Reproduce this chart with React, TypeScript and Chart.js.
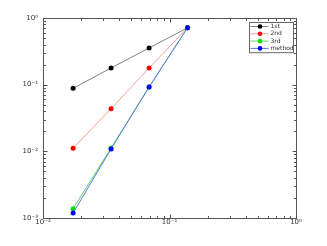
import React, { useEffect, useRef } from "react";
import { Chart, registerables } from "chart.js";

Chart.register(...registerables);

const stepSizes = [0.0173, 0.0345, 0.069, 0.139];
const err1st = [0.0881, 0.178, 0.355, 0.715];
const err2nd = [0.0111, 0.0436, 0.178, 0.715];
const err3rd = [0.00138, 0.0112, 0.0925, 0.715];
const errMethod = [0.00119, 0.01084, 0.0923, 0.715];
const seriesLabels = ["1st", "2nd", "3rd", "method"];
const xTickLabels: Record<string, string> = { "0.01": "10⁻²", "0.1": "10⁻¹", "1": "10⁰" };
const yTickLabels: Record<string, string> = { "0.001": "10⁻³", "0.01": "10⁻²", "0.1": "10⁻¹", "1": "10⁰" };

const lineColors = ["#808080", "#ff9a9a", "#5cd65c", "#5a78e6"];
const markerColors = ["#000000", "#ff0000", "#00e000", "#0000ff"];

function logTickValues(min: number, max: number) {
  const out: { v: number; major: boolean }[] = [];
  const d0 = Math.floor(Math.log10(min));
  const d1 = Math.ceil(Math.log10(max));
  for (let d = d0; d <= d1; d++) {
    for (let m = 1; m <= 9; m++) {
      const v = m * Math.pow(10, d);
      if (v >= min * 0.999 && v <= max * 1.001) out.push({ v, major: m === 1 });
    }
  }
  return out;
}

const boxTicksPlugin = {
  id: "boxTicks",
  afterDraw(chart: any) {
    const ctx = chart.ctx;
    const a = chart.chartArea;
    ctx.save();
    ctx.strokeStyle = "#555";
    ctx.lineWidth = 1;
    const L = Math.round(a.left) + 0.5, R = Math.round(a.right) + 0.5;
    const T = Math.round(a.top) + 0.5, B = Math.round(a.bottom) + 0.5;
    ctx.strokeRect(L, T, R - L, B - T);
    const xs = chart.scales.x;
    const ys = chart.scales.y;
    ctx.beginPath();
    logTickValues(xs.min, xs.max).forEach((t) => {
      const px = Math.round(xs.getPixelForValue(t.v)) + 0.5;
      const len = t.major ? 4 : 2.5;
      ctx.moveTo(px, B);
      ctx.lineTo(px, B - len);
      ctx.moveTo(px, T);
      ctx.lineTo(px, T + len);
    });
    logTickValues(ys.min, ys.max).forEach((t) => {
      const py = Math.round(ys.getPixelForValue(t.v)) + 0.5;
      const len = t.major ? 4 : 2.5;
      ctx.moveTo(L, py);
      ctx.lineTo(L + len, py);
      ctx.moveTo(R, py);
      ctx.lineTo(R - len, py);
    });
    ctx.stroke();
    // legend
    const bw = 44, rowH = 7.3;
    const n = chart.data.datasets.length;
    const bh = rowH * n + 1;
    const bx = Math.round(a.right - 3 - bw) + 0.5;
    const by = Math.round(a.top + 3.5) + 0.5;
    ctx.fillStyle = "#fff";
    ctx.fillRect(bx, by, bw, bh);
    ctx.strokeStyle = "#666";
    ctx.strokeRect(bx, by, bw, bh);
    ctx.font = "6px 'DejaVu Sans', sans-serif";
    ctx.textBaseline = "middle";
    ctx.textAlign = "left";
    chart.data.datasets.forEach((ds: any, i: number) => {
      const cy = by + 4 + i * rowH;
      ctx.strokeStyle = ds.borderColor;
      ctx.beginPath();
      ctx.moveTo(bx + 1, cy);
      ctx.lineTo(bx + 19, cy);
      ctx.stroke();
      ctx.fillStyle = ds.pointBackgroundColor;
      ctx.beginPath();
      ctx.arc(bx + 10.5, cy, 2.3, 0, Math.PI * 2);
      ctx.fill();
      ctx.fillStyle = "#333";
      ctx.fillText(ds.label, bx + 21, cy);
    });
    ctx.restore();
  },
};

export default function App() {
  const ref = useRef<HTMLCanvasElement>(null);
  useEffect(() => {
    document.body.style.margin = "0";
    const series = [err1st, err2nd, err3rd, errMethod];
    const chart = new Chart(ref.current!, {
      type: "line",
      data: {
        datasets: series.map((s, i) => ({
          label: seriesLabels[i],
          data: s.map((y, j) => ({ x: stepSizes[j], y })),
          borderColor: lineColors[i],
          borderWidth: 1,
          pointBackgroundColor: markerColors[i],
          pointBorderColor: markerColors[i],
          pointRadius: 2.5,
          pointBorderWidth: 0,
          fill: false,
          tension: 0,
          order: i === 3 ? 0 : 4 - i,
        })),
      },
      options: {
        animation: false,
        responsive: false,
        maintainAspectRatio: false,
        layout: { padding: { top: 18, right: 31, left: 0, bottom: 0 } },
        plugins: { legend: { display: false }, tooltip: { enabled: false } },
        scales: {
          x: {
            type: "logarithmic",
            min: 0.01,
            max: 1,
            grid: { display: false, drawTicks: false },
            border: { display: false },
            afterFit: (s: any) => { s.height = 28; },
            ticks: {
              autoSkip: false,
              maxRotation: 0,
              padding: 0,
              color: "#333",
              font: { size: 7, family: "'DejaVu Sans', sans-serif" },
              callback: (v: any) => xTickLabels[String(Number(v))] ?? "",
            },
          },
          y: {
            type: "logarithmic",
            min: 0.001,
            max: 1,
            grid: { display: false, drawTicks: false },
            border: { display: false },
            afterFit: (s: any) => { s.width = 43; },
            ticks: {
              autoSkip: false,
              padding: 5,
              color: "#333",
              font: { size: 7, family: "'DejaVu Sans', sans-serif" },
              callback: (v: any) => yTickLabels[String(Number(v))] ?? "",
            },
          },
        },
      },
      plugins: [boxTicksPlugin],
    });
    return () => chart.destroy();
  }, []);
  return (
    <div style={{ width: 327, height: 246 }}>
      <canvas ref={ref} width={327} height={246} style={{ width: 327, height: 246, display: "block" }} />
    </div>
  );
}
